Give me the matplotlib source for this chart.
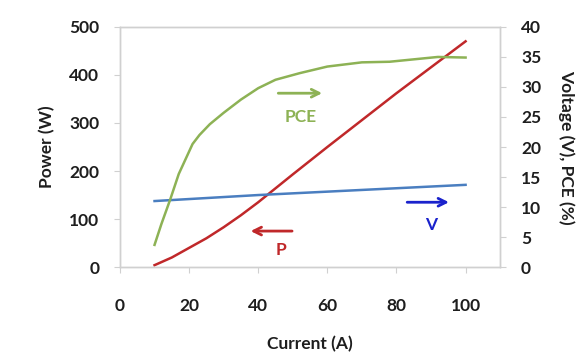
import matplotlib
matplotlib.use("Agg")
import matplotlib.pyplot as plt

plt.rcParams['font.family'] = ['Lato', 'DejaVu Sans']

current_p = [10, 15, 20, 25, 30, 35, 40, 50, 60, 70, 80, 90, 100]
power = [4, 20, 40, 60, 83, 108, 135, 193, 250, 306, 362, 416, 470]

current_v = [10, 40, 100]
voltage = [11.0, 12.0, 13.7]

current_pce = [10, 12, 14.5, 17, 19, 21, 23, 26, 30, 35, 40, 45, 52, 60, 70, 78, 85, 92, 100]
pce = [3.7, 7.2, 11.2, 15.5, 18.0, 20.5, 22.0, 23.8, 25.7, 27.9, 29.8, 31.2, 32.3,
       33.4, 34.1, 34.2, 34.6, 35.0, 34.9]

x_ticks = [0, 20, 40, 60, 80, 100]
p_ticks = [0, 100, 200, 300, 400, 500]
r_ticks = [0, 5, 10, 15, 20, 25, 30, 35, 40]

green = '#8DB255'
red = '#C0282A'
blue_line = '#4A7EC0'
blue_arrow = '#1A22CC'
grey = '#D0D0D0'
txt = '#1E1E1E'

fig = plt.figure(figsize=(5.76, 3.59), dpi=100)
ax = fig.add_axes([0.2083, 0.256, 0.660, 0.669])
ax2 = ax.twinx()

ax.plot(current_p, power, color=red, lw=1.8, solid_joinstyle='round')
ax2.plot(current_v, voltage, color=blue_line, lw=1.8)
ax2.plot(current_pce, pce, color=green, lw=1.8, solid_joinstyle='round')

ax.set_xlim(0, 110)
ax.set_ylim(0, 500)
ax2.set_ylim(0, 40)
ax.set_xticks(x_ticks)
ax.set_yticks(p_ticks)
ax2.set_yticks(r_ticks)

for a in (ax, ax2):
    for s in a.spines.values():
        s.set_color(grey)
        s.set_linewidth(1.0)
ax.tick_params(axis='x', colors=grey, length=4, pad=18, labelsize=12.5, labelcolor=txt)
ax.tick_params(axis='y', colors=grey, length=4, pad=11, labelsize=12.5, labelcolor=txt)
ax2.tick_params(axis='y', colors=grey, length=4, pad=11, labelsize=12.5, labelcolor=txt)
for lab in ax.get_xticklabels() + ax.get_yticklabels() + ax2.get_yticklabels():
    lab.set_fontweight('bold')

ax.set_xlabel('Current (A)', fontsize=12.5, fontweight='bold', color=txt, labelpad=16)
ax.set_ylabel('Power (W)', fontsize=12.5, fontweight='bold', color=txt, labelpad=10)
ax2.set_ylabel('Voltage (V), PCE (%)', fontsize=12.5, fontweight='bold', color=txt,
               rotation=-90, labelpad=24)

# annotations
ax.annotate('', xy=(59.3, 362), xytext=(45, 362),
            arrowprops=dict(arrowstyle='->', color=green, lw=2, mutation_scale=14))
ax.text(52.3, 312, 'PCE', color=green, fontsize=12.5, fontweight='bold', ha='center', va='center')
ax.annotate('', xy=(37, 75), xytext=(50.6, 75),
            arrowprops=dict(arrowstyle='->', color=red, lw=2, mutation_scale=14))
ax.text(46.5, 35, 'P', color=red, fontsize=12.5, fontweight='bold', ha='center', va='center')
ax.annotate('', xy=(96, 135), xytext=(82.3, 135),
            arrowprops=dict(arrowstyle='->', color=blue_arrow, lw=2, mutation_scale=14))
ax.text(90, 87, 'V', color=blue_arrow, fontsize=12.5, fontweight='bold', ha='center', va='center')

fig.savefig('out.png', dpi=100)
